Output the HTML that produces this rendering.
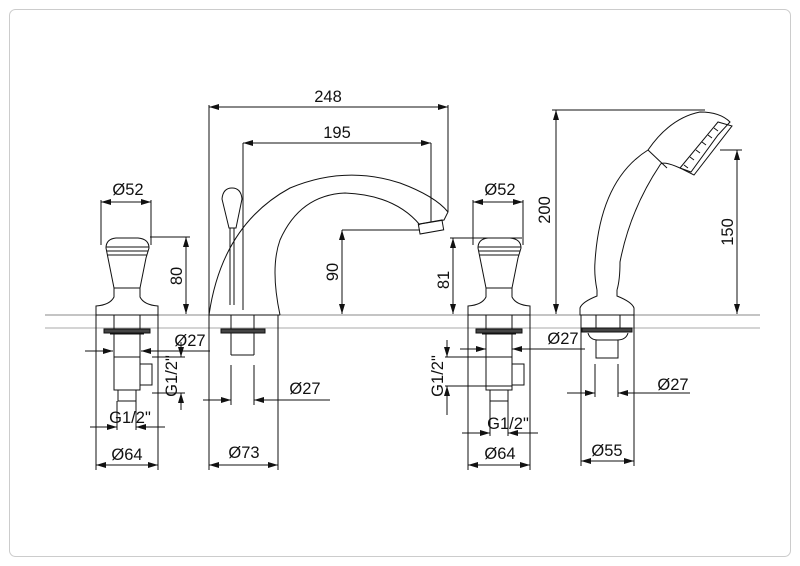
<!DOCTYPE html>
<html><head><style>
html,body{margin:0;padding:0;background:#fff;}
svg{display:block;}
text{font-family:"Liberation Sans",Arial,sans-serif;font-size:16.5px;fill:#111;}
</style></head><body>
<svg width="800" height="566" viewBox="0 0 800 566" xmlns="http://www.w3.org/2000/svg">
<defs>
<marker id="a" viewBox="0 0 10 6" refX="10" refY="3" markerWidth="10" markerHeight="6" orient="auto-start-reverse" markerUnits="userSpaceOnUse">
<path d="M0,0 L10,3 L0,6 z" fill="#111"/></marker>
</defs>
<rect x="9.5" y="9.5" width="781" height="547" rx="6" fill="none" stroke="#ccc" stroke-width="1"/>
<line x1="45" y1="315" x2="760" y2="315" stroke="#888" stroke-width="1"/>
<line x1="45" y1="328" x2="760" y2="328" stroke="#aaa" stroke-width="1"/>

<g fill="none" stroke="#111" stroke-width="1">
<g id="valve">
<path d="M106,248 Q106,239 116,238 L138,238 Q149,239 149,248 L146,258 L140,288 L114,288 L108,258 Z" fill="#fff"/>
<line x1="106" y1="247" x2="149" y2="247"/><line x1="107" y1="251" x2="148" y2="251"/><line x1="107" y1="255" x2="147" y2="255"/>
<path d="M114,288 L114,297 Q110,305 96,306 L96,315 L158,315 L158,306 Q144,305 140,297 L140,288"/>
<path d="M114,315 V357 M140,315 V357"/>
<rect x="104" y="329" width="46" height="4" fill="#444"/>
<path d="M110,334 L144,334"/>
<rect x="114" y="357" width="26" height="33"/>
<rect x="140" y="364" width="12" height="21"/>
<rect x="118" y="390" width="18" height="11"/>
</g>
<use href="#valve" x="372"/>

<path d="M101,245 V200 M151,245 V200"/>
<line x1="101" y1="202" x2="151" y2="202" marker-start="url(#a)" marker-end="url(#a)"/>
<path d="M150,237 H190"/>
<line x1="186" y1="237" x2="186" y2="314" marker-start="url(#a)" marker-end="url(#a)"/>
<line x1="85" y1="351" x2="113" y2="351" marker-end="url(#a)"/>
<line x1="210" y1="351" x2="141" y2="351" marker-end="url(#a)"/>
<path d="M152,357 H185 M152,393 H185"/>
<line x1="181" y1="342" x2="181" y2="357" marker-end="url(#a)"/>
<line x1="181" y1="410" x2="181" y2="393" marker-end="url(#a)"/>
<path d="M117,401 V430 M136,401 V430"/>
<line x1="90" y1="427" x2="117" y2="427" marker-end="url(#a)"/>
<line x1="165" y1="427" x2="136" y2="427" marker-end="url(#a)"/>
<path d="M96,315 V470 M158,315 V470"/>
<line x1="96" y1="465" x2="158" y2="465" marker-start="url(#a)" marker-end="url(#a)"/>

<path d="M473,245 V200 M523,245 V200"/>
<line x1="473" y1="202" x2="523" y2="202" marker-start="url(#a)" marker-end="url(#a)"/>
<path d="M522,238 H450"/>
<line x1="453" y1="238" x2="453" y2="314" marker-start="url(#a)" marker-end="url(#a)"/>
<line x1="460" y1="349" x2="486" y2="349" marker-end="url(#a)"/>
<line x1="585" y1="349" x2="512" y2="349" marker-end="url(#a)"/>
<path d="M512,357 H445 M512,386 H445"/>
<line x1="447" y1="340" x2="447" y2="357" marker-end="url(#a)"/>
<line x1="447" y1="415" x2="447" y2="386" marker-end="url(#a)"/>
<path d="M490,401 V436 M508,401 V436"/>
<line x1="462" y1="433" x2="490" y2="433" marker-end="url(#a)"/>
<line x1="538" y1="433" x2="508" y2="433" marker-end="url(#a)"/>
<path d="M468,315 V470 M530,315 V470"/>
<line x1="468" y1="465" x2="530" y2="465" marker-start="url(#a)" marker-end="url(#a)"/>

<path d="M209,315 Q222,225 290,188 Q345,165 400,183 Q435,196 448,212 L444,220 L420,224" fill="#fff"/>
<path d="M280,315 Q270,268 280,240 Q300,195 345,193 Q395,195 420,225"/>
<path d="M209,315 H280"/>
<rect x="419" y="222" width="24" height="10" transform="rotate(-10 431 227)"/>
<path d="M222,199 Q223,188 232,188 Q241,188 242,199 L236,228 L229,228 Z" fill="#fff"/>
<path d="M230,228 L230,305 M234,228 L234,305"/>
<path d="M231,315 V355 M254,315 V355 M231,355 H254"/>
<rect x="221" y="329" width="44" height="4" fill="#444"/>
<path d="M209,105 V470 M448,105 V212"/>
<line x1="209" y1="107" x2="448" y2="107" marker-start="url(#a)" marker-end="url(#a)"/>
<path d="M243,143 V310 M431,143 V222"/>
<line x1="243" y1="143" x2="431" y2="143" marker-start="url(#a)" marker-end="url(#a)"/>
<path d="M342,230 H420"/>
<line x1="342" y1="230" x2="342" y2="314" marker-start="url(#a)" marker-end="url(#a)"/>
<path d="M231,365 V405 M254,365 V405"/>
<line x1="203" y1="400" x2="231" y2="400" marker-end="url(#a)"/>
<line x1="330" y1="400" x2="254" y2="400" marker-end="url(#a)"/>
<path d="M278,315 V470"/>
<line x1="209" y1="465" x2="278" y2="465" marker-start="url(#a)" marker-end="url(#a)"/>

<path d="M597,290 Q594,275 595,262 Q600,180 648,150 Q670,118 700,112 Q720,112 730,122 L718,135 L691,172 L680,168 Q662,160 660,165 Q630,210 620,262 Q620,280 617,290" fill="#fff"/>
<path d="M648,150 L667,168"/>
<path d="M680,168 L718,122 L732,126 L694,175 Z"/>
<path d="M684,165 l4,3 M690,157 l4,3 M696,150 l4,3 M702,142 l4,3 M708,135 l4,3 M714,128 l4,3"/>
<path d="M597,290 L597,296 Q582,302 580,308 L580,315 L634,315 L634,308 Q632,302 617,296 L617,290"/>
<path d="M596,315 V330 M620,315 V330"/>
<rect x="582" y="328" width="50" height="4" fill="#444"/>
<path d="M588,333 Q590,340 598,340 L617,340 Q626,340 628,333"/>
<rect x="596" y="340" width="22" height="18"/>
<path d="M552,110 H705"/>
<line x1="556" y1="110" x2="556" y2="314" marker-start="url(#a)" marker-end="url(#a)"/>
<path d="M720,150 H742"/>
<line x1="737" y1="150" x2="737" y2="314" marker-start="url(#a)" marker-end="url(#a)"/>
<path d="M595,364 V397 M618,364 V397"/>
<line x1="567" y1="393" x2="595" y2="393" marker-end="url(#a)"/>
<line x1="690" y1="393" x2="618" y2="393" marker-end="url(#a)"/>
<path d="M581,315 V466 M634,315 V466"/>
<line x1="581" y1="461" x2="634" y2="461" marker-start="url(#a)" marker-end="url(#a)"/>
</g>

<text x="128" y="195" text-anchor="middle">Ø52</text>
<text transform="translate(182,276) rotate(-90)" text-anchor="middle">80</text>
<text x="190" y="346" text-anchor="middle">Ø27</text>
<text transform="translate(177,376) rotate(-90)" text-anchor="middle">G1/2"</text>
<text x="130" y="423" text-anchor="middle">G1/2"</text>
<text x="127" y="460" text-anchor="middle">Ø64</text>

<text x="328" y="102" text-anchor="middle">248</text>
<text x="337" y="138" text-anchor="middle">195</text>
<text transform="translate(338,272) rotate(-90)" text-anchor="middle">90</text>
<text x="305" y="394" text-anchor="middle">Ø27</text>
<text x="244" y="458" text-anchor="middle">Ø73</text>

<text x="500" y="195" text-anchor="middle">Ø52</text>
<text transform="translate(449,280) rotate(-90)" text-anchor="middle">81</text>
<text x="563" y="344" text-anchor="middle">Ø27</text>
<text transform="translate(443,376) rotate(-90)" text-anchor="middle">G1/2"</text>
<text x="508" y="429" text-anchor="middle">G1/2"</text>
<text x="500" y="459" text-anchor="middle">Ø64</text>

<text transform="translate(550,210) rotate(-90)" text-anchor="middle">200</text>
<text transform="translate(733,232) rotate(-90)" text-anchor="middle">150</text>
<text x="673" y="390" text-anchor="middle">Ø27</text>
<text x="607" y="456" text-anchor="middle">Ø55</text>
</svg>
</body></html>
